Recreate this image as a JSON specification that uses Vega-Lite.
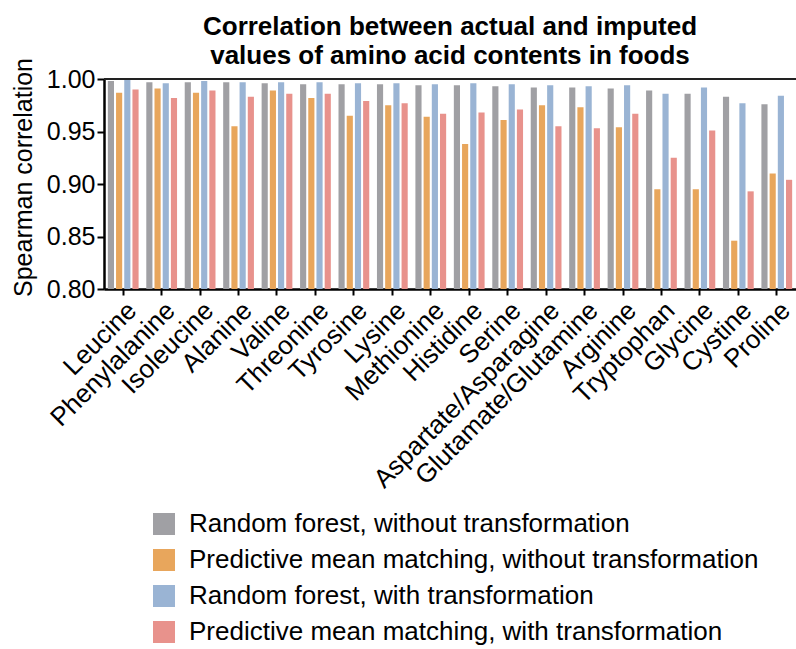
{
  "$schema": "https://vega.github.io/schema/vega-lite/v6.json",
  "autosize": {"type": "none"},
  "padding": {"left": 104, "top": 79, "right": 0, "bottom": 360},
  "width": 692,
  "height": 210,
  "background": "white",
  "config": {
    "font": "Liberation Sans",
    "view": {"stroke": null},
    "axis": {"labelColor": "#000", "titleColor": "#000", "domainColor": "#000", "tickColor": "#000", "grid": false}
  },
  "title": {
    "text": ["Correlation between actual and imputed", "values of amino acid contents in foods"],
    "fontSize": 26,
    "fontWeight": "bold",
    "color": "#000",
    "anchor": "middle",
    "lineHeight": 29,
    "baseline": "alphabetic",
    "offset": 17,
    "dy": 50
  },
  "data": {
    "values": [
      {"aa": "Leucine", "method": "Random forest, without transformation", "r": 0.998},
      {"aa": "Leucine", "method": "Predictive mean matching, without transformation", "r": 0.987},
      {"aa": "Leucine", "method": "Random forest, with transformation", "r": 0.999},
      {"aa": "Leucine", "method": "Predictive mean matching, with transformation", "r": 0.990},
      {"aa": "Phenylalanine", "method": "Random forest, without transformation", "r": 0.997},
      {"aa": "Phenylalanine", "method": "Predictive mean matching, without transformation", "r": 0.991},
      {"aa": "Phenylalanine", "method": "Random forest, with transformation", "r": 0.996},
      {"aa": "Phenylalanine", "method": "Predictive mean matching, with transformation", "r": 0.982},
      {"aa": "Isoleucine", "method": "Random forest, without transformation", "r": 0.997},
      {"aa": "Isoleucine", "method": "Predictive mean matching, without transformation", "r": 0.987},
      {"aa": "Isoleucine", "method": "Random forest, with transformation", "r": 0.998},
      {"aa": "Isoleucine", "method": "Predictive mean matching, with transformation", "r": 0.989},
      {"aa": "Alanine", "method": "Random forest, without transformation", "r": 0.997},
      {"aa": "Alanine", "method": "Predictive mean matching, without transformation", "r": 0.955},
      {"aa": "Alanine", "method": "Random forest, with transformation", "r": 0.997},
      {"aa": "Alanine", "method": "Predictive mean matching, with transformation", "r": 0.983},
      {"aa": "Valine", "method": "Random forest, without transformation", "r": 0.996},
      {"aa": "Valine", "method": "Predictive mean matching, without transformation", "r": 0.989},
      {"aa": "Valine", "method": "Random forest, with transformation", "r": 0.997},
      {"aa": "Valine", "method": "Predictive mean matching, with transformation", "r": 0.986},
      {"aa": "Threonine", "method": "Random forest, without transformation", "r": 0.995},
      {"aa": "Threonine", "method": "Predictive mean matching, without transformation", "r": 0.982},
      {"aa": "Threonine", "method": "Random forest, with transformation", "r": 0.997},
      {"aa": "Threonine", "method": "Predictive mean matching, with transformation", "r": 0.986},
      {"aa": "Tyrosine", "method": "Random forest, without transformation", "r": 0.995},
      {"aa": "Tyrosine", "method": "Predictive mean matching, without transformation", "r": 0.965},
      {"aa": "Tyrosine", "method": "Random forest, with transformation", "r": 0.996},
      {"aa": "Tyrosine", "method": "Predictive mean matching, with transformation", "r": 0.979},
      {"aa": "Lysine", "method": "Random forest, without transformation", "r": 0.995},
      {"aa": "Lysine", "method": "Predictive mean matching, without transformation", "r": 0.975},
      {"aa": "Lysine", "method": "Random forest, with transformation", "r": 0.996},
      {"aa": "Lysine", "method": "Predictive mean matching, with transformation", "r": 0.977},
      {"aa": "Methionine", "method": "Random forest, without transformation", "r": 0.994},
      {"aa": "Methionine", "method": "Predictive mean matching, without transformation", "r": 0.964},
      {"aa": "Methionine", "method": "Random forest, with transformation", "r": 0.995},
      {"aa": "Methionine", "method": "Predictive mean matching, with transformation", "r": 0.967},
      {"aa": "Histidine", "method": "Random forest, without transformation", "r": 0.994},
      {"aa": "Histidine", "method": "Predictive mean matching, without transformation", "r": 0.938},
      {"aa": "Histidine", "method": "Random forest, with transformation", "r": 0.996},
      {"aa": "Histidine", "method": "Predictive mean matching, with transformation", "r": 0.968},
      {"aa": "Serine", "method": "Random forest, without transformation", "r": 0.993},
      {"aa": "Serine", "method": "Predictive mean matching, without transformation", "r": 0.961},
      {"aa": "Serine", "method": "Random forest, with transformation", "r": 0.995},
      {"aa": "Serine", "method": "Predictive mean matching, with transformation", "r": 0.971},
      {"aa": "Aspartate/Asparagine", "method": "Random forest, without transformation", "r": 0.992},
      {"aa": "Aspartate/Asparagine", "method": "Predictive mean matching, without transformation", "r": 0.975},
      {"aa": "Aspartate/Asparagine", "method": "Random forest, with transformation", "r": 0.994},
      {"aa": "Aspartate/Asparagine", "method": "Predictive mean matching, with transformation", "r": 0.955},
      {"aa": "Glutamate/Glutamine", "method": "Random forest, without transformation", "r": 0.992},
      {"aa": "Glutamate/Glutamine", "method": "Predictive mean matching, without transformation", "r": 0.973},
      {"aa": "Glutamate/Glutamine", "method": "Random forest, with transformation", "r": 0.993},
      {"aa": "Glutamate/Glutamine", "method": "Predictive mean matching, with transformation", "r": 0.953},
      {"aa": "Arginine", "method": "Random forest, without transformation", "r": 0.991},
      {"aa": "Arginine", "method": "Predictive mean matching, without transformation", "r": 0.954},
      {"aa": "Arginine", "method": "Random forest, with transformation", "r": 0.994},
      {"aa": "Arginine", "method": "Predictive mean matching, with transformation", "r": 0.967},
      {"aa": "Tryptophan", "method": "Random forest, without transformation", "r": 0.989},
      {"aa": "Tryptophan", "method": "Predictive mean matching, without transformation", "r": 0.895},
      {"aa": "Tryptophan", "method": "Random forest, with transformation", "r": 0.986},
      {"aa": "Tryptophan", "method": "Predictive mean matching, with transformation", "r": 0.925},
      {"aa": "Glycine", "method": "Random forest, without transformation", "r": 0.986},
      {"aa": "Glycine", "method": "Predictive mean matching, without transformation", "r": 0.895},
      {"aa": "Glycine", "method": "Random forest, with transformation", "r": 0.992},
      {"aa": "Glycine", "method": "Predictive mean matching, with transformation", "r": 0.951},
      {"aa": "Cystine", "method": "Random forest, without transformation", "r": 0.983},
      {"aa": "Cystine", "method": "Predictive mean matching, without transformation", "r": 0.846},
      {"aa": "Cystine", "method": "Random forest, with transformation", "r": 0.977},
      {"aa": "Cystine", "method": "Predictive mean matching, with transformation", "r": 0.893},
      {"aa": "Proline", "method": "Random forest, without transformation", "r": 0.976},
      {"aa": "Proline", "method": "Predictive mean matching, without transformation", "r": 0.910},
      {"aa": "Proline", "method": "Random forest, with transformation", "r": 0.984},
      {"aa": "Proline", "method": "Predictive mean matching, with transformation", "r": 0.904}
    ]
  },
  "layer": [
    {
      "mark": {"type": "bar", "clip": true},
      "encoding": {
        "x": {
          "field": "aa", "type": "nominal", "sort": null,
          "scale": {"paddingInner": 0.2, "paddingOuter": 0.1},
          "axis": {
            "title": null, "labelAngle": -45, "labelAlign": "right", "labelBaseline": "top",
            "labelFontSize": 26, "labelPadding": 2, "tickSize": 6, "tickWidth": 2, "domainWidth": 2.5, "labelLimit": 0
          }
        },
        "xOffset": {
          "field": "method", "type": "nominal",
          "sort": ["Random forest, without transformation", "Predictive mean matching, without transformation", "Random forest, with transformation", "Predictive mean matching, with transformation"],
          "scale": {"paddingInner": 0.25, "paddingOuter": 0}
        },
        "y": {
          "field": "r", "type": "quantitative",
          "scale": {"domain": [0.8, 1.0], "zero": false, "nice": false},
          "axis": {
            "title": "Spearman correlation", "titleFontSize": 25, "titleFontWeight": "normal", "titlePadding": 10, "titleY": 98,
            "values": [0.8, 0.85, 0.9, 0.95, 1.0], "format": ".2f",
            "labelFontSize": 25, "labelPadding": 2, "tickSize": 7, "tickWidth": 2, "domainWidth": 2.5
          }
        },
        "y2": {"datum": 0.8},
        "color": {
          "field": "method", "type": "nominal",
          "sort": ["Random forest, without transformation", "Predictive mean matching, without transformation", "Random forest, with transformation", "Predictive mean matching, with transformation"],
          "scale": {
            "domain": ["Random forest, without transformation", "Predictive mean matching, without transformation", "Random forest, with transformation", "Predictive mean matching, with transformation"],
            "range": ["#a0a0a4", "#e8a65c", "#9ab4d4", "#e8928c"]
          },
          "legend": {
            "title": null, "orient": "none", "legendX": 47, "legendY": 432,
            "symbolType": "square", "symbolSize": 484, "symbolStrokeWidth": 0, "symbolOpacity": 1,
            "labelFontSize": 26, "labelColor": "#000", "labelLimit": 0, "labelOffset": 12, "rowPadding": 10
          }
        }
      }
    },
    {
      "mark": {"type": "rule", "color": "#222", "strokeWidth": 2},
      "encoding": {"y": {"datum": 1.0}}
    }
  ]
}
